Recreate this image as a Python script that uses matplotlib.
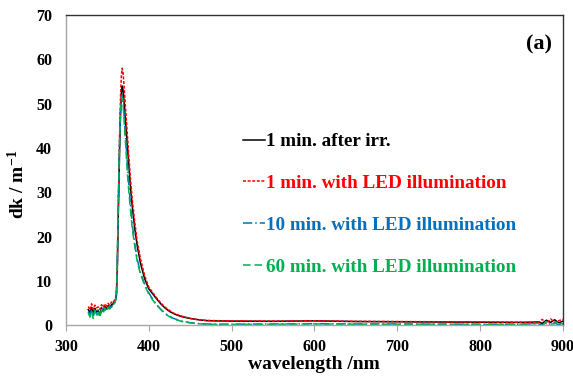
import matplotlib
matplotlib.use("Agg")
import matplotlib.pyplot as plt

# Wavelength grid (nm) shared by all four spectra
wavelength = [327, 329, 331, 333, 335, 337, 339, 341, 343, 345, 347, 349, 351,
              353, 355, 357, 359, 360, 361, 362, 363, 364, 365, 366, 367, 368,
              369, 370, 372, 374, 376, 378, 380, 383, 386, 390, 395, 400, 405,
              410, 415, 420, 425, 430, 435, 440, 450, 460, 470, 480, 500, 550,
              600, 650, 700, 750, 800, 850, 870, 875, 880, 885, 890, 895, 900]

# dk / m^-1 for each condition
dk_after_irr = [3.5, 2.8, 4.0, 2.6, 3.8, 2.9, 3.3, 2.2, 3.9, 3.1, 4.2, 3.6, 4.4,
                3.9, 4.6, 4.8, 5.4, 5.8, 7.0, 12.0, 22.0, 32.0, 41.0, 48.0, 52.5, 54.0,
                53.0, 51.0, 46.0, 41.0, 36.0, 31.0, 27.0, 22.0, 18.0, 14.0, 10.5, 8.2, 7.0,
                5.8, 4.7, 3.8, 3.1, 2.6, 2.2, 1.9, 1.5, 1.2, 1.0, 0.95, 0.9, 0.85,
                0.95, 0.8, 0.75, 0.7, 0.65, 0.6, 0.7, 0.4, 1.1, 0.6, 1.2, 0.5, 0.9]

dk_led_1min = [4.2, 3.4, 4.8, 3.6, 4.5, 3.9, 4.1, 3.5, 4.6, 4.0, 4.8, 4.3, 4.9,
               4.5, 5.2, 5.0, 5.8, 6.2, 7.5, 13.0, 24.0, 35.0, 45.0, 52.0, 56.5, 58.0,
               57.0, 54.5, 49.0, 43.5, 38.0, 33.0, 28.5, 23.5, 19.0, 15.0, 11.2, 8.6, 7.3,
               6.0, 4.9, 4.0, 3.3, 2.7, 2.3, 2.0, 1.5, 1.2, 1.05, 1.0, 0.95, 0.9,
               0.95, 0.85, 0.8, 0.75, 0.7, 0.65, 0.5, 1.3, 0.3, 1.4, 0.6, 1.0, 1.3]

dk_led_10min = [3.0, 2.2, 3.5, 2.0, 3.2, 2.5, 3.6, 2.4, 3.0, 3.8, 3.3, 4.0, 3.7,
                4.3, 4.0, 4.7, 5.0, 5.6, 6.8, 13.5, 24.5, 34.5, 42.5, 48.5, 51.5, 52.0,
                50.5, 48.0, 42.5, 37.0, 31.5, 27.0, 23.0, 18.5, 15.0, 11.8, 9.3, 7.3, 5.8,
                4.5, 3.5, 2.6, 2.0, 1.5, 1.2, 0.9, 0.55, 0.35, 0.25, 0.2, 0.2, 0.25,
                0.3, 0.25, 0.25, 0.2, 0.2, 0.2, 0.3, 0.0, 0.7, 0.1, 0.5, 0.0, 0.6]

dk_led_60min = [2.8, 1.8, 3.2, 1.5, 3.4, 2.0, 2.9, 1.7, 3.5, 2.6, 3.9, 3.0, 4.1,
                3.6, 4.4, 4.5, 5.1, 5.5, 6.5, 14.0, 25.0, 35.0, 43.0, 48.5, 51.0, 51.5,
                50.0, 47.0, 41.0, 35.0, 30.0, 26.0, 22.0, 18.0, 14.5, 11.5, 9.0, 7.0, 5.6,
                4.4, 3.4, 2.5, 1.9, 1.4, 1.1, 0.8, 0.5, 0.3, 0.2, 0.15, 0.15, 0.2,
                0.25, 0.2, 0.2, 0.2, 0.15, 0.15, 0.4, -0.1, 0.8, 0.2, 0.3, 0.9, 0.1]

labels = ["1 min. after irr.",
          "1 min. with LED illumination",
          "10 min. with LED illumination",
          "60 min. with LED illumination"]
colors = ["#000000", "#FF0000", "#0070C0", "#00B050"]
styles = ["-", (0, (2, 1)), (0, (6, 2, 1, 2)), (0, (5, 2.5))]
series = [dk_after_irr, dk_led_1min, dk_led_10min, dk_led_60min]

x_ticks = [300, 400, 500, 600, 700, 800, 900]
y_ticks = [0, 10, 20, 30, 40, 50, 60, 70]

plt.rcParams["font.family"] = ["Liberation Serif", "DejaVu Serif"]
plt.rcParams["font.weight"] = "bold"
plt.rcParams["mathtext.fontset"] = "custom"
plt.rcParams["mathtext.rm"] = "Liberation Serif:bold"
plt.rcParams["mathtext.bf"] = "Liberation Serif:bold"
plt.rcParams["mathtext.default"] = "bf"

fig = plt.figure(figsize=(5.73, 3.78), dpi=100)
ax = fig.add_axes([0.115, 0.140, 0.8675, 0.820])

for vals, lab, col, ls in zip(series, labels, colors, styles):
    ax.plot(wavelength, vals, color=col, linestyle=ls, linewidth=1.1, label=lab)

ax.set_xlim(300, 900)
ax.set_ylim(0, 70)
ax.set_xticks(x_ticks)
ax.set_yticks(y_ticks)
ax.tick_params(axis="x", direction="out", length=4, color="#A6A6A6",
               labelsize=11.5, pad=6)
ax.tick_params(axis="y", length=0, labelsize=11.5, pad=10)
for t in ax.get_xticklabels() + ax.get_yticklabels():
    t.set_fontweight("bold")

ax.spines["left"].set_color("#A6A6A6")
ax.spines["bottom"].set_color("#A6A6A6")
ax.spines["top"].set_color("#333333")
ax.spines["right"].set_color("#333333")
for s in ax.spines.values():
    s.set_linewidth(1.0)

ax.set_xlabel("wavelength /nm", fontsize=14, fontweight="bold")
ax.xaxis.set_label_coords(0.499, -0.10)
ax.set_ylabel("dk / m$^{-1}$", fontsize=14, fontweight="bold")
ax.yaxis.set_label_coords(-0.0765, 0.455)

leg = ax.legend(loc="upper left", bbox_to_anchor=(0.340, 0.645), frameon=False,
                prop={"size": 13.8, "weight": "bold"}, labelcolor="linecolor",
                handlelength=1.15, handletextpad=0.05, labelspacing=1.27,
                borderaxespad=0)

ax.text(0.978, 0.905, "(a)", transform=ax.transAxes, ha="right", va="center",
        fontsize=16, fontweight="bold")

fig.savefig("out.png", dpi=100)
